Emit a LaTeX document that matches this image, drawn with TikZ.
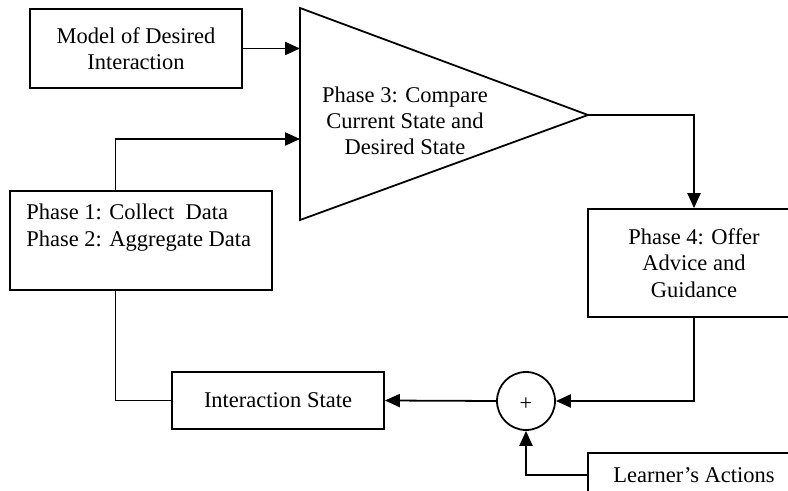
\documentclass[tikz,border=0pt]{standalone}
\usepackage{fontspec}
\setmainfont{Liberation Serif}
\usetikzlibrary{arrows.meta, positioning, calc}

\newlength\pxl
\setlength\pxl{0.01875cm}

\begin{document}
\begin{tikzpicture}[
    x=0.01875cm, y=-0.01875cm,
    every node/.style={font=\fontsize{12}{14}\selectfont},
    block/.style={draw, line width=0.95pt, align=center, inner sep=0pt},
    arr/.style={-{Triangle[length=8pt,width=7pt]}, line width=0.95pt},
    wire/.style={line width=0.95pt}
  ]
  \useasboundingbox (0,0) rectangle (788,491);
  \clip (0,0) rectangle (788,491);

  % boxes
  \node[block, line width=1.3pt, minimum width=212\pxl, minimum height=79\pxl] (model) at (136,48.5) {Model of Desired\\Interaction};
  \node[block, line width=0.65pt, minimum width=262\pxl, minimum height=99\pxl] (collect) at (141,240.5) {};
  \node[anchor=north west, align=left, inner sep=0pt] (collectText) at (26,204) {Phase 1: Collect\ \ Data\\Phase 2: Aggregate Data};
  \node[block, minimum width=212\pxl, minimum height=57\pxl] (state) at (278,400.5) {Interaction State};
  \node[block, circle, minimum size=58\pxl, text height=1em, text depth=0pt] (sum) at (526,401) {+};
  \node[block, minimum width=212\pxl, minimum height=108\pxl] (advice) at (694,263) {Phase 4: Offer\\Advice and\\Guidance};
  \node[block, minimum width=212\pxl, minimum height=44\pxl] (learner) at (694,475) {Learner's Actions};

  % comparator
  \draw[wire] (300,8) coordinate (triTop) -- (588,115) coordinate (apex) -- (300,220) coordinate (triBot) -- cycle;
  \node[align=center, inner sep=0pt] (compare) at (405,121) {Phase 3: Compare\\Current State and\\Desired State};

  % taps
  \coordinate (in2) at (300,139);
  \coordinate (collectTop) at ($(collect.north west)+(106,0)$);
  \coordinate (collectBot) at (collectTop |- collect.south);

  % connectors
  \draw[arr] (model.east) -- (model.east -| triTop);
  \draw[arr] (collectTop) |- (in2);
  \draw[wire] (collectBot) |- (state.west);
  \draw[arr] (apex) -| (advice.north);
  \draw[arr] (advice.south) |- (sum.east);
  \draw[arr] (sum.west) -- (state.east);
  \draw[arr] (learner.west) -| (sum.south);
\end{tikzpicture}
\end{document}
